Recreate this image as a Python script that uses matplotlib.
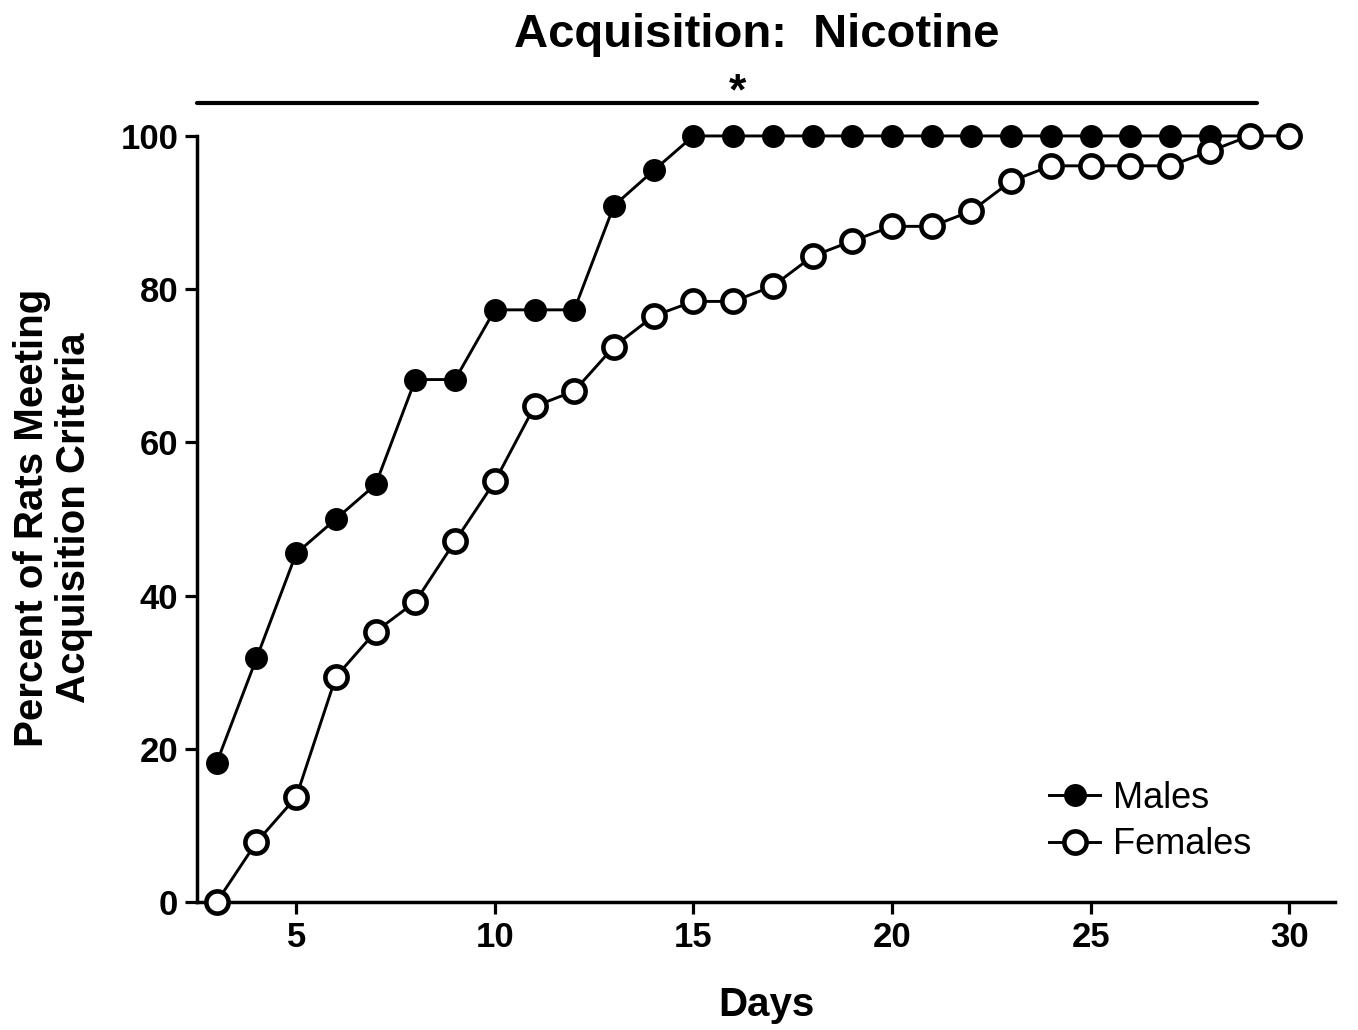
import matplotlib
matplotlib.use("Agg")
import matplotlib.pyplot as plt

plt.rcParams['font.family'] = ['Liberation Sans', 'DejaVu Sans']

male_days = list(range(3, 30))
male_pct = [18.2, 31.8, 45.5, 50.0, 54.5, 68.2, 68.2, 77.3, 77.3, 77.3, 90.9, 95.5,
            100, 100, 100, 100, 100, 100, 100, 100, 100, 100, 100, 100, 100, 100, 100]
female_days = list(range(3, 31))
female_pct = [0.0, 7.8, 13.7, 29.4, 35.3, 39.2, 47.1, 54.9, 64.7, 66.7, 72.5, 76.5,
              78.4, 78.4, 80.4, 84.3, 86.3, 88.2, 88.2, 90.2, 94.1, 96.1, 96.1, 96.1,
              96.1, 98.0, 100, 100]
x_ticks = [5, 10, 15, 20, 25, 30]
y_ticks = [0, 20, 40, 60, 80, 100]

fig = plt.figure(figsize=(13.58, 10.30), dpi=100)
ax = fig.add_axes([0.145, 0.1243, 0.838, 0.7437])

ax.plot(male_days, male_pct, '-o', color='black', lw=2.1, ms=15.5,
        mfc='black', mec='black', mew=1.0, clip_on=False, zorder=3, label='Males')
ax.plot(female_days, female_pct, '-o', color='black', lw=2.1, ms=16,
        mfc='white', mec='black', mew=3.3, clip_on=False, zorder=4, label='Females')

ax.set_xlim(2.5, 31.15)
ax.set_ylim(0, 100)
ax.set_xticks(x_ticks)
ax.set_yticks(y_ticks)
for s in ['top', 'right']:
    ax.spines[s].set_visible(False)
for s in ['left', 'bottom']:
    ax.spines[s].set_linewidth(2.5)
ax.tick_params(direction='out', length=8.5, width=2.3, labelsize=25, pad=5)
for lab in ax.get_xticklabels() + ax.get_yticklabels():
    lab.set_fontweight('bold')

ax.set_xlabel('Days', fontsize=29, fontweight='bold', va='center')
ax.xaxis.set_label_coords(0.5, -0.1345)
fig.text(0.039, 0.497, 'Percent of Rats Meeting\nAcquisition Criteria', rotation=90,
         ha='center', va='center', fontsize=29, fontweight='bold', linespacing=1.15)
fig.text(0.557, 0.966, 'Acquisition:  Nicotine', ha='center', va='center',
         fontsize=34, fontweight='bold')

# significance bar
ax.plot([2.5, 29.2], [104.3, 104.3], color='black', lw=3, clip_on=False,
        solid_capstyle='round')
ax.text(16.1, 105.6, '*', ha='center', va='center', fontsize=32, fontweight='bold')

leg = ax.legend(loc='center left', bbox_to_anchor=(0.749, 0.105), frameon=False,
                fontsize=26, handlelength=1.4, handletextpad=0.36, labelspacing=0.32,
                borderpad=0, borderaxespad=0)

fig.savefig('out.png', dpi=100)
